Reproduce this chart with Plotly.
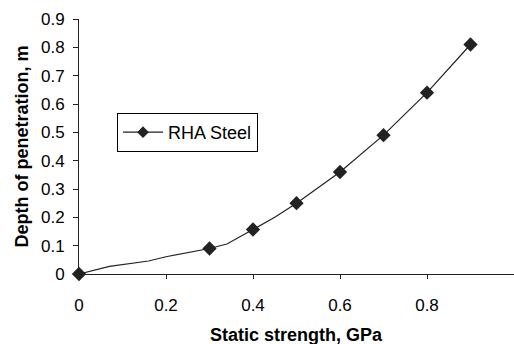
import plotly.graph_objects as go

# Line path (all points) and the marked data points
line_x = [0, 0.07, 0.16, 0.2, 0.3, 0.34, 0.4, 0.45, 0.5, 0.6, 0.7, 0.8, 0.9]
line_y = [0, 0.027, 0.046, 0.061, 0.09, 0.106, 0.157, 0.2, 0.25, 0.36, 0.49, 0.64, 0.81]
marker_x = [0, 0.3, 0.4, 0.5, 0.6, 0.7, 0.8, 0.9]
marker_y = [0, 0.09, 0.157, 0.25, 0.36, 0.49, 0.64, 0.81]
series_name = "RHA Steel"
x_ticks = [0, 0.2, 0.4, 0.6, 0.8, 1]
x_tick_labels = ["0", "0.2", "0.4", "0.6", "0.8", "1"]
y_ticks = [0, 0.1, 0.2, 0.3, 0.4, 0.5, 0.6, 0.7, 0.8, 0.9]
y_tick_labels = ["0", "0.1", "0.2", "0.3", "0.4", "0.5", "0.6", "0.7", "0.8", "0.9"]
x_title = "Static strength, GPa"
y_title = "Depth of penetration, m"

ink = "#222222"
font_family = "Liberation Sans, Arial, sans-serif"

fig = go.Figure()
fig.add_trace(go.Scatter(
    x=line_x, y=line_y, mode="lines", line=dict(color=ink, width=1.2),
    showlegend=False, hoverinfo="skip", cliponaxis=False))
fig.add_trace(go.Scatter(
    x=marker_x, y=marker_y, mode="markers", name=series_name,
    marker=dict(symbol="diamond", size=11, color=ink),
    showlegend=False, cliponaxis=False))
# legend entry (line + marker)
fig.add_trace(go.Scatter(
    x=[None], y=[None], mode="lines+markers", name=series_name,
    line=dict(color=ink, width=1.2),
    marker=dict(symbol="diamond", size=9, color=ink)))

fig.update_layout(
    width=514, height=344,
    margin=dict(l=79, r=0, t=19, b=70, autoexpand=False),
    paper_bgcolor="white", plot_bgcolor="white",
    font=dict(family=font_family, size=17, color="black"),
    legend=dict(
        x=(117 - 79) / 435, y=1 - (113 - 19) / 255,
        xanchor="left", yanchor="top",
        bgcolor="white", bordercolor="black", borderwidth=1,
        font=dict(size=18), itemwidth=40,
        tracegroupgap=0),
    xaxis=dict(
        range=[0, 1], tickvals=x_ticks, ticktext=x_tick_labels,
        showgrid=False, zeroline=False, showline=True, linecolor=ink, linewidth=1,
        ticks="outside", ticklen=4, tickcolor=ink, ticklabelstandoff=12,
        tickfont=dict(size=17), automargin=False),
    yaxis=dict(
        range=[0, 0.9], tickvals=y_ticks, ticktext=y_tick_labels,
        showgrid=False, zeroline=False, showline=True, linecolor=ink, linewidth=1,
        ticks="outside", ticklen=5, tickcolor=ink, ticklabelstandoff=5,
        tickfont=dict(size=17), automargin=False),
    annotations=[
        dict(text="<b>" + x_title + "</b>", xref="paper", yref="paper",
             x=0.5, y=0, yshift=-61, xanchor="center", yanchor="middle",
             showarrow=False, font=dict(size=18)),
        dict(text="<b>" + y_title + "</b>", xref="paper", yref="paper",
             x=0, y=0.5, xshift=-58, xanchor="center", yanchor="middle",
             textangle=-90, showarrow=False, font=dict(size=18)),
    ],
)

fig.write_html(
    "out.html",
    config={"displayModeBar": False},
    post_script="document.body.style.margin='0px';document.body.style.overflow='hidden';",
)
